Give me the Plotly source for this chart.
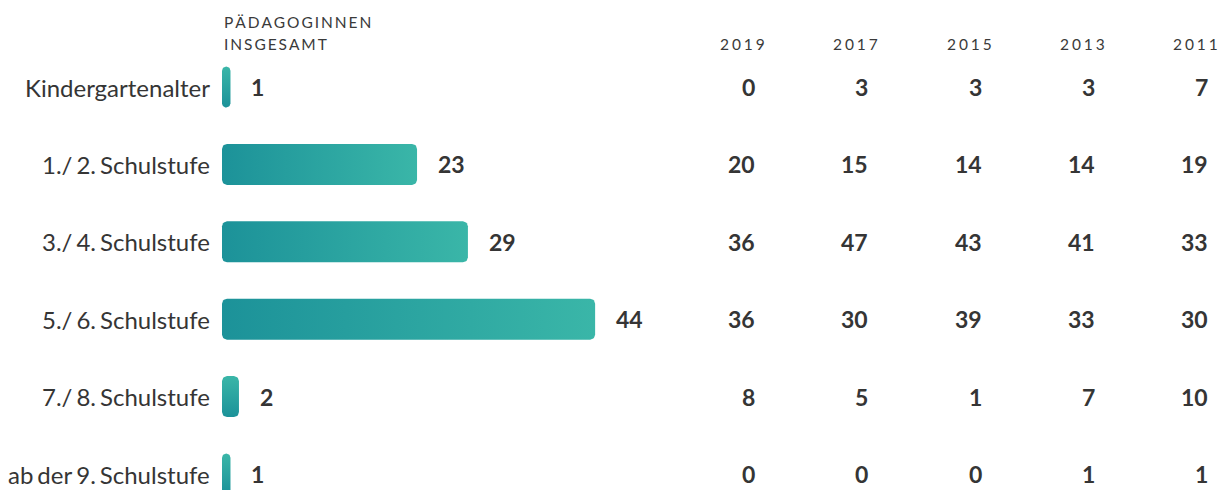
import numpy as np
import plotly.graph_objects as go

# ---- data -------------------------------------------------------------
categories = [
    "Kindergartenalter",
    "1./ 2. Schulstufe",
    "3./ 4. Schulstufe",
    "5./ 6. Schulstufe",
    "7./ 8. Schulstufe",
    "ab der 9. Schulstufe",
]
total = [1, 23, 29, 44, 2, 1]

years = ["2019", "2017", "2015", "2013", "2011"]
v2019 = [0, 20, 36, 36, 8, 0]
v2017 = [3, 15, 47, 30, 5, 0]
v2015 = [3, 14, 43, 39, 1, 0]
v2013 = [3, 14, 41, 33, 7, 1]
v2011 = [7, 19, 33, 30, 10, 1]
year_values = [v2019, v2017, v2015, v2013, v2011]

header_lines = ["PÄDAGOGINNEN", "INSGESAMT"]

# ---- layout constants (pixels) ----------------------------------------
W, H = 1223, 490
X0_PX = 222           # left edge of the bars
PX_PER_UNIT = 8.48    # horizontal scale of the bars
ROW0_PX = 87          # centre of first row
ROW_STEP_PX = 77.4    # distance between rows
BAR_H_PX = 41
RADIUS_PX = 5
COL_RIGHT_PX = [757, 870, 984, 1097, 1210]

FONT = "Lato"
TEXT = "#353535"
HEAD = "#3a3a3a"
DARK = "#1c9299"
LIGHT = "#3ab6a8"

x_range = [-X0_PX / PX_PER_UNIT, (W - X0_PX) / PX_PER_UNIT]
y_range = [(H - ROW0_PX) / ROW_STEP_PX, -ROW0_PX / ROW_STEP_PX]  # reversed


def spaced(s, sep="\u2009"):
    """Letter-spaced caption text."""
    return sep.join(s)


def tight(s):
    """Narrower word gaps for the row labels."""
    return s.replace(" ", "\u2006")


def rounded_bar(value, row):
    """Outline of a rounded bar in data coordinates."""
    w = value * PX_PER_UNIT
    h = BAR_H_PX
    r = min(RADIUS_PX, w / 2, h / 2)
    corners = [
        ((w - r, h / 2 - r), 90, 0),
        ((w - r, -h / 2 + r), 0, -90),
        ((r, -h / 2 + r), -90, -180),
        ((r, h / 2 - r), 180, 90),
    ]
    xs, ys = [], []
    for (cx, cy), a0, a1 in corners:
        for a in np.linspace(np.radians(a0), np.radians(a1), 8):
            px = cx + r * np.cos(a)
            py = cy + r * np.sin(a)
            xs.append(px / PX_PER_UNIT)
            ys.append(row - py / ROW_STEP_PX)
    xs.append(xs[0])
    ys.append(ys[0])
    return xs, ys


fig = go.Figure()

half_h = BAR_H_PX / 2 / ROW_STEP_PX
for i, v in enumerate(total):
    xs, ys = rounded_bar(v, i)
    if v * PX_PER_UNIT > BAR_H_PX:
        grad = dict(type="horizontal", start=0, stop=v,
                    colorscale=[[0, DARK], [1, LIGHT]])
    else:
        grad = dict(type="vertical", start=i + half_h, stop=i - half_h,
                    colorscale=[[0, DARK], [1, LIGHT]])
    fig.add_trace(go.Scatter(
        x=xs, y=ys, mode="lines", fill="toself",
        line=dict(width=0, color=LIGHT),
        fillgradient=grad,
        hoverinfo="skip", showlegend=False,
    ))

annotations = []
for i, (cat, v) in enumerate(zip(categories, total)):
    annotations.append(dict(
        x=0, y=i, xref="x", yref="y", text=tight(cat), showarrow=False,
        xanchor="right", yanchor="middle", xshift=-10,
        font=dict(family=FONT, size=24, color=TEXT),
    ))
    annotations.append(dict(
        x=v, y=i, xref="x", yref="y", text=f"<b>{v}</b>", showarrow=False,
        xanchor="left", yanchor="middle", xshift=19,
        font=dict(family=FONT, size=23, color=TEXT),
    ))

for c, (yr, vals) in enumerate(zip(years, year_values)):
    annotations.append(dict(
        x=(COL_RIGHT_PX[c] + 10) / W, y=1 - 44 / H, xref="paper", yref="paper",
        text=spaced(yr, "\u2009\u200a"), showarrow=False,
        xanchor="right", yanchor="middle",
        font=dict(family=FONT, size=15.5, color=HEAD),
    ))
    for i, val in enumerate(vals):
        annotations.append(dict(
            x=COL_RIGHT_PX[c] / W, y=i, xref="paper", yref="y",
            text=f"<b>{val}</b>", showarrow=False,
            xanchor="right", yanchor="middle",
            font=dict(family=FONT, size=23, color=TEXT),
        ))

for k, (line, yc) in enumerate(zip(header_lines, [22, 44])):
    annotations.append(dict(
        x=X0_PX / W, y=1 - yc / H, xref="paper", yref="paper",
        text=spaced(line), showarrow=False, xanchor="left", yanchor="middle",
        font=dict(family=FONT, size=15.5, color=HEAD),
    ))

fig.update_layout(
    width=W, height=H,
    margin=dict(l=0, r=0, t=0, b=0),
    paper_bgcolor="white", plot_bgcolor="white",
    xaxis=dict(range=x_range, visible=False, fixedrange=True),
    yaxis=dict(range=y_range, visible=False, fixedrange=True),
    annotations=annotations,
    showlegend=False,
)

fig.write_html("out.html", config={"displayModeBar": False})
